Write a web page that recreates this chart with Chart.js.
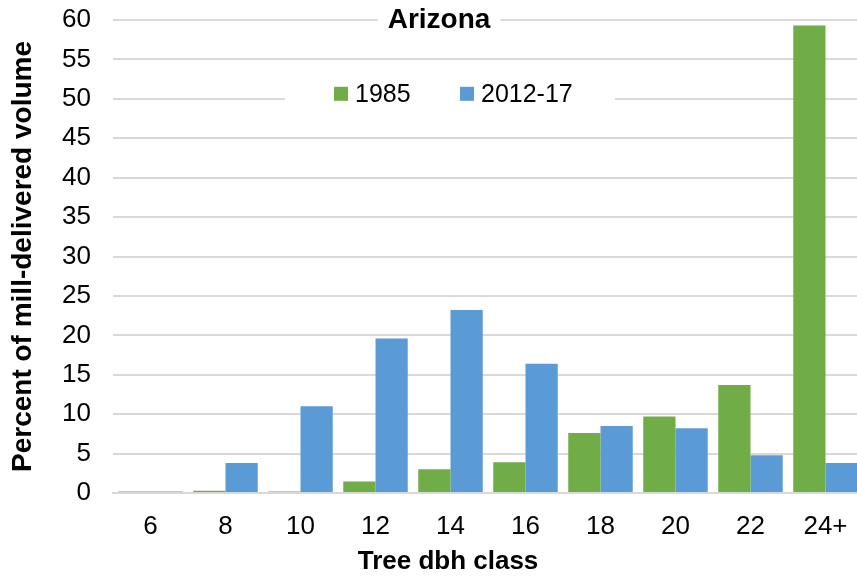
<!DOCTYPE html>
<html>
<head>
<meta charset="utf-8">
<script src="https://cdn.jsdelivr.net/npm/chart.js@4.4.1/dist/chart.umd.min.js"></script>
<style>
  html, body { margin: 0; padding: 0; background: #fff; overflow: hidden; }
  #wrap { width: 863px; height: 576px; }
</style>
</head>
<body>
<div id="wrap"><canvas id="c" width="863" height="576"></canvas></div>
<script>
const chartTitle = 'Arizona';
const categories = ['6', '8', '10', '12', '14', '16', '18', '20', '22', '24+'];
const series1985 = [0.2, 0.3, 0.2, 1.45, 3.0, 3.9, 7.6, 9.7, 13.7, 59.3];
const series2012 = [0.2, 3.8, 11.0, 19.6, 23.2, 16.4, 8.5, 8.2, 4.8, 3.8];
const seriesNames = ['1985', '2012-17'];
const seriesColors = ['#70ad47', '#5b9bd5'];
const yTitle = 'Percent of mill-delivered volume';
const xTitle = 'Tree dbh class';

const FONT = '"Liberation Sans", Arial, sans-serif';

const overlayPlugin = {
  id: 'overlay',
  beforeDatasetsDraw(chart) {
    const ctx = chart.ctx;
    const area = chart.chartArea;
    const y = chart.scales.y;
    ctx.save();
    // Title box over the top gridline
    ctx.font = 'bold 28px ' + FONT;
    const tw = ctx.measureText(chartTitle).width;
    const tx = area.left + 326;
    const ty = y.getPixelForValue(60);
    ctx.fillStyle = '#fff';
    ctx.fillRect(tx - tw / 2 - 10, ty - 12, tw + 20, 24);
    ctx.fillStyle = '#000';
    ctx.textAlign = 'center';
    ctx.textBaseline = 'middle';
    ctx.fillText(chartTitle, tx, ty);
    // Legend box over the 50 gridline
    const ly = y.getPixelForValue(50) - 5;
    ctx.fillStyle = '#fff';
    ctx.fillRect(area.left + 172, ly - 12, 330, 24);
    ctx.font = '25px ' + FONT;
    ctx.textAlign = 'left';
    const items = chart.data.datasets;
    const starts = [area.left + 221, area.left + 347];
    items.forEach((ds, i) => {
      const sx = starts[i];
      ctx.fillStyle = ds.backgroundColor;
      ctx.fillRect(sx, ly - 7, 14, 14);
      ctx.fillStyle = '#000';
      ctx.fillText(ds.label, sx + 21, ly + 1);
    });
    ctx.restore();
  },
  afterDraw(chart) {
    // x-axis title, centred as in the reference (slightly left of plot centre)
    const ctx = chart.ctx;
    ctx.save();
    ctx.font = 'bold 26px ' + FONT;
    ctx.fillStyle = '#000';
    ctx.textAlign = 'center';
    ctx.textBaseline = 'middle';
    ctx.fillText(xTitle, chart.chartArea.left + 335, 562);
    ctx.restore();
  }
};

new Chart(document.getElementById('c'), {
  type: 'bar',
  data: {
    labels: categories,
    datasets: [
      { label: seriesNames[0], data: series1985, backgroundColor: seriesColors[0], borderWidth: 0 },
      { label: seriesNames[1], data: series2012, backgroundColor: seriesColors[1], borderWidth: 0 }
    ]
  },
  options: {
    responsive: false,
    animation: false,
    layout: { padding: { top: 20, left: 2, right: 0, bottom: 0 } },
    plugins: {
      legend: { display: false },
      title: { display: false },
      tooltip: { enabled: false }
    },
    datasets: { bar: { categoryPercentage: 0.86, barPercentage: 1.0 } },
    scales: {
      x: {
        grid: { display: false, drawTicks: false },
        border: { display: true, color: '#d9d9d9', width: 2 },
        ticks: { color: '#000', font: { family: FONT, size: 26 }, padding: 18, maxRotation: 0 },
        afterFit: (s) => { s.height = 83; s.paddingLeft = 0; s.paddingRight = 0; }
      },
      y: {
        min: 0, max: 60,
        grid: { color: '#d9d9d9', lineWidth: 2, drawTicks: false },
        border: { display: false },
        ticks: { stepSize: 5, color: '#000', font: { family: FONT, size: 26 }, padding: 22 },
        title: { display: true, text: yTitle, color: '#000',
                 font: { family: FONT, size: 28, weight: 'bold' }, padding: { top: 4, bottom: 4 } },
        afterFit: (s) => { s.width = 111; s.paddingTop = 0; s.paddingBottom = 0; }
      }
    }
  },
  plugins: [overlayPlugin]
});
</script>
</body>
</html>
